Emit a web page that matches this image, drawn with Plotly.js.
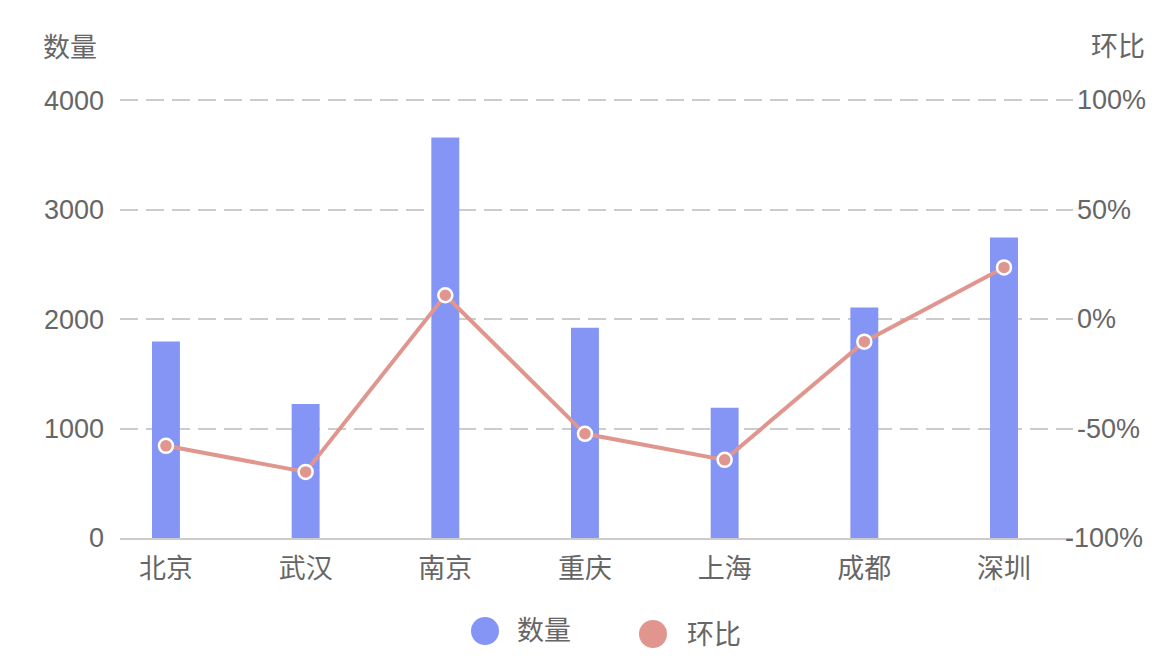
<!DOCTYPE html>
<html>
<head>
<meta charset="utf-8">
<script src="https://cdn.plot.ly/plotly-3.0.1.min.js"></script>
<style>html,body{margin:0;padding:0;background:#fff;}#chart{width:1176px;height:670px;}</style>
</head>
<body>
<div id="chart"></div>
<script>
const cities = ['北京', '武汉', '南京', '重庆', '上海', '成都', '深圳'];
const counts = [1795, 1225, 3660, 1920, 1190, 2105, 2745];
const ratios = [-57.9, -69.8, 10.9, -52.4, -64.3, -10.3, 23.6];
const countTicks = [0, 1000, 2000, 3000, 4000];
const ratioTickVals = [-100, -50, 0, 50, 100];
const ratioTickText = ['-100%', '-50%', '0%', '50%', '100%'];
const seriesNames = ['数量', '环比'];

const barColor = '#8595F5';
const lineColor = '#E0968F';
const textColor = '#666666';
const FONT = 'Liberation Sans, "Noto Sans CJK SC", sans-serif';

const L = 120, R = 1073, T = 98, B = 538;
const W = R - L, H = B - T;
const px = x => (x - L) / W;
const py = y => (B - y) / H;

const traces = [
  {
    type: 'bar', x: cities, y: counts, name: seriesNames[0],
    marker: {color: barColor}, width: 0.2, showlegend: false,
    hoverinfo: 'x+y'
  },
  {
    type: 'scatter', mode: 'lines+markers', x: cities, y: ratios, yaxis: 'y2',
    name: seriesNames[1], showlegend: false,
    line: {color: lineColor, width: 4},
    marker: {color: lineColor, size: 14, line: {color: '#ffffff', width: 2.5}}
  }
];

const legendItems = [
  {name: seriesNames[0], color: barColor, cx: 485, cy: 631, tx: 515, ty: 631},
  {name: seriesNames[1], color: lineColor, cx: 653, cy: 634, tx: 685, ty: 635}
];

const shapes = legendItems.map(it => ({
  type: 'circle', xref: 'paper', yref: 'paper',
  xsizemode: 'pixel', ysizemode: 'pixel',
  xanchor: px(it.cx), yanchor: py(it.cy),
  x0: -14, x1: 14, y0: -14, y1: 14,
  fillcolor: it.color, line: {width: 0}
}));

const tickFont = {size: 27, color: textColor, family: FONT};

// right-axis labels: left aligned next to the plot, clamped to the canvas edge when too long
const rightLabels = ratioTickVals.map((v, i) => {
  const long = ratioTickText[i].length >= 5;
  return {
    xref: 'paper', yref: 'y2', y: v, yanchor: 'middle', showarrow: false,
    x: long ? px(1145) : px(1075), xanchor: long ? 'right' : 'left',
    text: ratioTickText[i], font: tickFont
  };
});

const annotations = legendItems.map(it => ({
  xref: 'paper', yref: 'paper', x: px(it.tx), y: py(it.ty),
  xanchor: 'left', yanchor: 'middle', showarrow: false,
  text: it.name, font: tickFont
})).concat([
  {xref: 'paper', yref: 'paper', x: px(70), y: py(48), xanchor: 'center', yanchor: 'middle',
   showarrow: false, text: seriesNames[0], font: tickFont},
  {xref: 'paper', yref: 'paper', x: px(1118), y: py(47), xanchor: 'center', yanchor: 'middle',
   showarrow: false, text: seriesNames[1], font: tickFont}
]).concat(rightLabels);

const yTop = 4020;
const layout = {
  width: 1176, height: 670,
  margin: {l: L, r: 1176 - R, t: T, b: 670 - B, pad: 0},
  paper_bgcolor: '#ffffff', plot_bgcolor: '#ffffff',
  font: {family: FONT, size: 27, color: textColor},
  showlegend: false,
  xaxis: {
    type: 'category', range: [-0.329, 6.494], showgrid: false, zeroline: false,
    showline: true, linecolor: '#cccccc', linewidth: 2, ticks: '',
    ticklabelstandoff: 6, tickfont: tickFont
  },
  yaxis: {
    range: [0, yTop], tickvals: countTicks, showgrid: true, gridcolor: '#cccccc',
    gridwidth: 2, griddash: '18px,8px', zeroline: false, showline: false, ticks: '',
    ticklabelstandoff: 15, tickfont: tickFont
  },
  yaxis2: {
    overlaying: 'y', side: 'right', range: [-100, -100 + 200 * yTop / 4000],
    showticklabels: false, showgrid: false, zeroline: false,
    showline: false, ticks: ''
  },
  shapes: shapes,
  annotations: annotations
};

Plotly.newPlot('chart', traces, layout, {displayModeBar: false, staticPlot: true});
</script>
</body>
</html>
